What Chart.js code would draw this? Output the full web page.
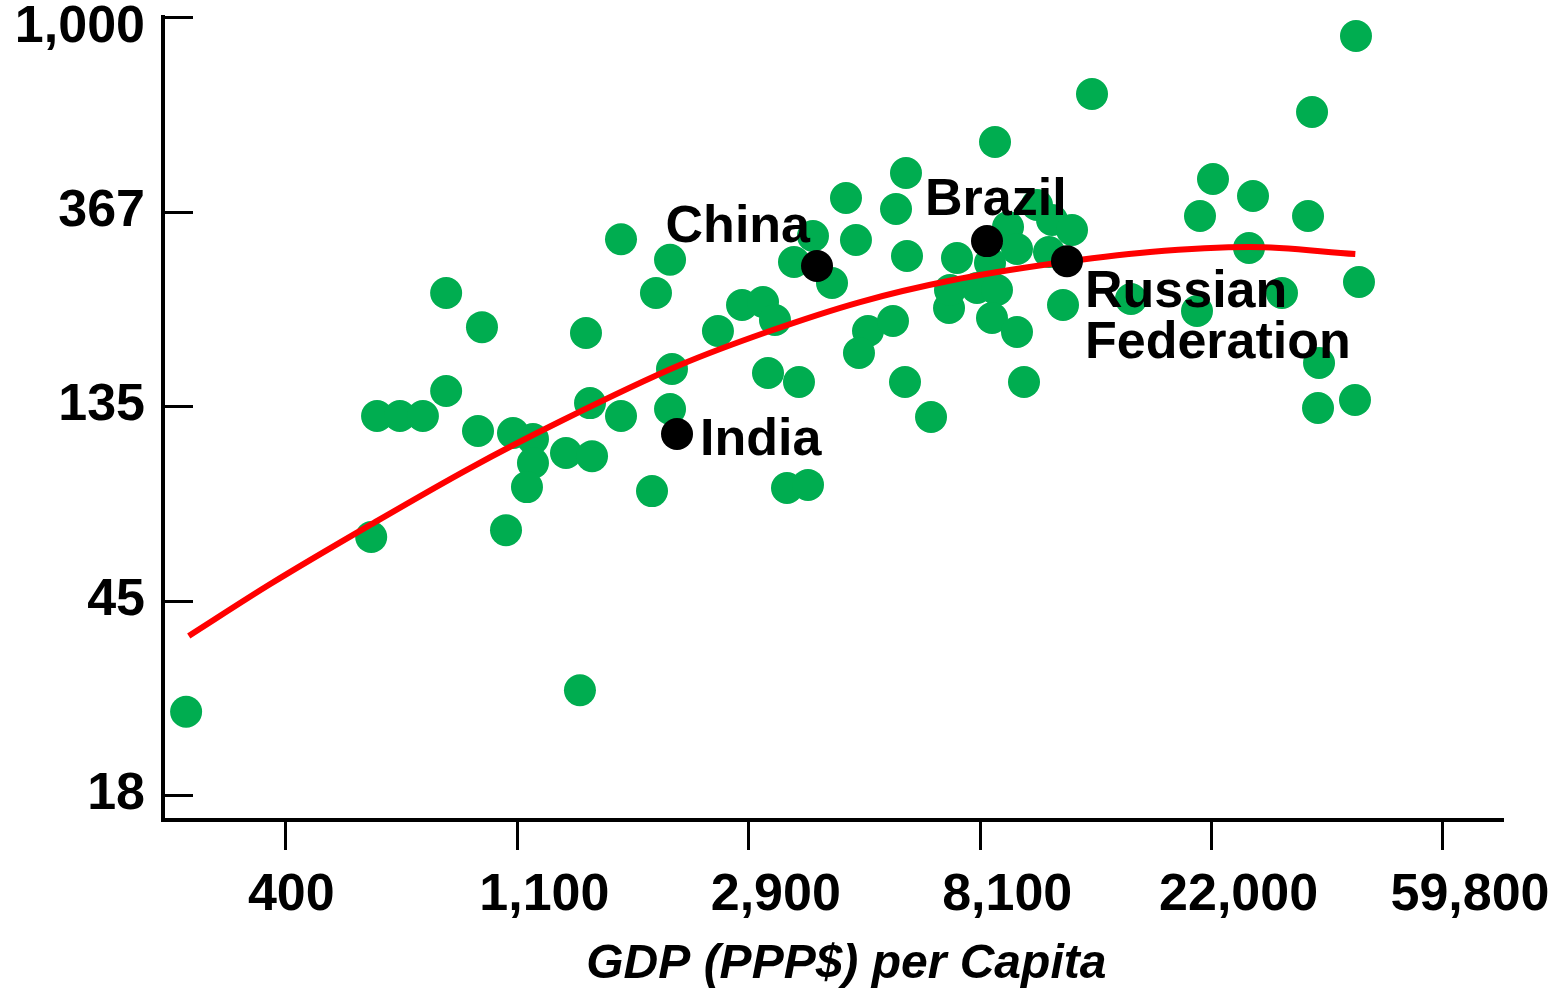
<!DOCTYPE html>
<html>
<head>
<meta charset="utf-8">
<script src="https://cdn.jsdelivr.net/npm/chart.js@4.4.1/dist/chart.umd.min.js"></script>
<style>
  html, body { margin: 0; padding: 0; background: #ffffff; }
  canvas { display: block; }
</style>
</head>
<body>
<canvas id="chart" width="1562" height="992"></canvas>
<script>
// Axis ticks (placed at e-spaced values, labelled with rounded figures)
const xTickValues = [403.4, 1096.6, 2981.0, 8103.1, 22026.5, 59874.1];
const xTickLabels = ['400\u00a0\u00a0\u00a0', '1,100', '2,900', '8,100', '22,000', '59,800'];
const yTickValues = [18.32, 49.79, 135.34, 367.88, 1000];
const yTickLabels = ['18', '45', '135', '367', '1,000'];

// All countries: GDP (PPP$) per capita and indicator value
const countryGdp = [
  262, 583, 598, 660, 729, 806, 806, 941, 925, 1044,
  1076, 1173, 1173, 1143, 1353, 1514, 1437, 1475, 1501, 1716,
  1716, 1962, 1996, 2121, 2121, 2139, 2609, 2895, 3170, 3338,
  3239, 3516, 3850, 3703, 3624, 3934, 4271, 4537, 4737, 4990,
  4799, 5559, 5632, 5880, 5906, 5855, 6552, 7082, 7330, 7112,
  7992, 8713, 8454, 8527, 8639, 9138, 9500, 9500, 9792, 10358,
  11052, 10909, 12050, 11590, 13137, 15547, 20680, 20950, 22160, 26344,
  25893, 29858, 33416, 33998, 35042, 34890, 41110, 40932, 41647
];
const countryValue = [
  28.1, 69.0, 128.6, 128.6, 128.6, 242, 146.2, 203, 119.0, 71.5,
  117.8, 114.2, 101.0, 89.2, 106.3, 104.6, 31.4, 197, 137.4, 319,
  128.6, 87.4, 242, 287, 133.3, 163.7, 199, 227.5, 231, 210.6,
  160.4, 88.8, 90.2, 153.1, 283.8, 324.3, 254.7, 394.3, 317.8, 199,
  177.7, 209.5, 372.7, 448.4, 292.7, 153.1, 127.9, 224, 289.7, 245.7,
  248.3, 245.7, 282.3, 212.8, 525.9, 339.7, 303.4, 198, 153.1, 380.4,
  352.2, 298.7, 334.5, 227.5, 673.1, 234.6, 220.6, 359.5, 434.8, 398.4,
  304.9, 242, 359.5, 613.6, 168.8, 134.0, 906.9, 139.6, 256.0
];

// Named countries
const highlightNames = ['India', 'China', 'Brazil', 'Russian Federation'];
const highlightGdp = [2186, 4003, 8345, 11791];
const highlightValue = [117.2, 278, 316, 285];

// Fitted trend curve
const trendGdp = [265, 377, 580, 894, 1324, 2214, 3225, 4821, 7205, 10956, 16877, 26006, 40990];
const trendValue = [41.5, 54.2, 73.4, 98.4, 125.3, 167.1, 198.0, 231.0, 258.7, 280.9, 298.7, 306.5, 295.7];

const FONT = "'Liberation Sans', Arial, Helvetica, sans-serif";
const toPoints = (xs, ys) => xs.map((x, i) => ({ x, y: ys[i] }));

// Where each country name sits relative to its marker
const namePlacement = {
  'India': { dx: 23, dy: 21, align: 'left' },
  'China': { dx: -7, dy: -24, align: 'right' },
  'Brazil': { dx: -62, dy: -26, align: 'left' },
  'Russian Federation': { dx: 18, dy: 46, align: 'left', lines: ['Russian', 'Federation'], lineGap: 51 }
};

const decorations = {
  id: 'decorations',
  beforeDatasetsDraw(chart) {
    // inward tick marks on the vertical axis
    const { ctx, chartArea, scales } = chart;
    const y = scales.y;
    ctx.save();
    ctx.strokeStyle = '#000';
    ctx.lineWidth = 3;
    y.ticks.forEach(t => {
      const py = Math.round(y.getPixelForValue(t.value)) + 0.5;
      ctx.beginPath();
      ctx.moveTo(chartArea.left, py);
      ctx.lineTo(chartArea.left + 30, py);
      ctx.stroke();
    });
    ctx.restore();
  },
  afterDatasetsDraw(chart) {
    const { ctx, scales } = chart;
    ctx.save();
    ctx.fillStyle = '#000';
    ctx.font = 'bold 52px ' + FONT;
    ctx.textBaseline = 'alphabetic';
    highlightNames.forEach((name, i) => {
      const p = namePlacement[name];
      const px = scales.x.getPixelForValue(highlightGdp[i]);
      const py = scales.y.getPixelForValue(highlightValue[i]);
      ctx.textAlign = p.align;
      const lines = p.lines || [name];
      lines.forEach((ln, k) => {
        ctx.fillText(ln, px + p.dx, py + p.dy + k * (p.lineGap || 0));
      });
    });
    ctx.restore();
  }
};

new Chart(document.getElementById('chart'), {
  type: 'scatter',
  data: {
    datasets: [
      {
        label: 'Named countries',
        data: toPoints(highlightGdp, highlightValue),
        backgroundColor: '#000000',
        borderWidth: 0,
        pointRadius: 16,
        pointHoverRadius: 16,
        order: 0
      },
      {
        label: 'Trend',
        data: toPoints(trendGdp, trendValue),
        showLine: true,
        borderColor: '#ff0000',
        borderWidth: 6,
        pointRadius: 0,
        pointHoverRadius: 0,
        cubicInterpolationMode: 'monotone',
        fill: false,
        order: 1
      },
      {
        label: 'Countries',
        data: toPoints(countryGdp, countryValue),
        backgroundColor: '#00ad50',
        borderWidth: 0,
        pointRadius: 16,
        pointHoverRadius: 16,
        order: 2
      }
    ]
  },
  options: {
    responsive: false,
    animation: false,
    devicePixelRatio: 1,
    layout: { padding: { top: 17, right: 59, bottom: 0, left: 0 } },
    plugins: {
      legend: { display: false },
      tooltip: { enabled: false }
    },
    scales: {
      x: {
        type: 'logarithmic',
        position: 'bottom',
        bounds: 'data',
        min: 237.1,
        max: 77600,
        afterBuildTicks: s => { s.ticks = xTickValues.map(v => ({ value: v })); },
        afterFit: s => { s.height = 172; s.paddingLeft = 0; s.paddingRight = 0; },
        border: { display: true, color: '#000', width: 4 },
        grid: {
          display: true,
          drawOnChartArea: false,
          drawTicks: true,
          tickLength: 30,
          tickWidth: 3,
          tickColor: '#000'
        },
        ticks: {
          autoSkip: false,
          maxRotation: 0,
          minRotation: 0,
          padding: 20,
          labelOffset: 27,
          color: '#000',
          font: { family: FONT, size: 52, weight: 'bold', lineHeight: 1 },
          callback: (v, i) => xTickLabels[i]
        },
        title: {
          display: true,
          text: '\u00a0\u00a0GDP (PPP$) per Capita',
          color: '#000',
          font: { family: FONT, size: 48, weight: 'bold', style: 'italic', lineHeight: 1 },
          padding: { top: 0, bottom: 3 }
        }
      },
      y: {
        type: 'logarithmic',
        position: 'left',
        bounds: 'data',
        min: 16.11,
        max: 1000,
        afterBuildTicks: s => { s.ticks = yTickValues.map(v => ({ value: v })); },
        afterFit: s => { s.width = 163; s.paddingTop = 0; s.paddingBottom = 0; },
        border: { display: true, color: '#000', width: 4 },
        grid: { display: false, drawTicks: false },
        ticks: {
          autoSkip: false,
          padding: 18,
          color: '#000',
          font: ctx => ({
            family: FONT,
            size: 52,
            weight: 'bold',
            lineHeight: ctx.index === yTickValues.length - 1 ? '22px' : 1
          }),
          callback: (v, i) => (i === yTickLabels.length - 1 ? ['', yTickLabels[i]] : yTickLabels[i])
        }
      }
    }
  },
  plugins: [decorations]
});
</script>
</body>
</html>
